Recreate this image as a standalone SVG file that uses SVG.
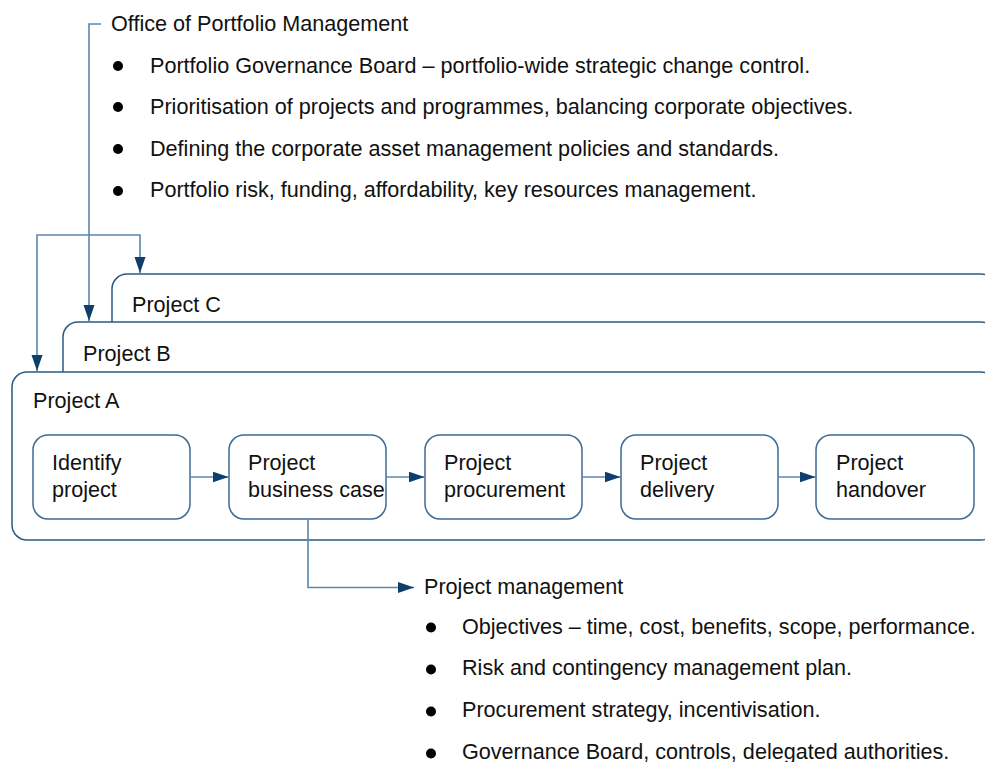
<svg xmlns="http://www.w3.org/2000/svg" width="985" height="762" viewBox="0 0 985 762">
<style>
text{font-family:"Liberation Sans",Arial,sans-serif;font-size:21.6px;fill:#111}
.frame{fill:#fff;stroke:#2b5a86;stroke-width:1.5}
.step{fill:#fff;stroke:#3e6b95;stroke-width:1.5}
.conn{fill:none;stroke:#5b87b0;stroke-width:1.6}
.dot{fill:#000}
</style>
<defs>
<marker id="ah" markerUnits="userSpaceOnUse" markerWidth="17" markerHeight="12" refX="16" refY="5.5" orient="auto">
<path d="M0,0 L16,5.5 L0,11 z" fill="#0d3e6c"/>
</marker>
<marker id="ahs" markerUnits="userSpaceOnUse" markerWidth="17" markerHeight="12" refX="16" refY="5.5" orient="auto-start-reverse">
<path d="M0,0 L16,5.5 L0,11 z" fill="#0d3e6c"/>
</marker>
</defs>

<g id="office">
<text x="111" y="31">Office of Portfolio Management</text>
<circle class="dot" cx="118" cy="66" r="5"/>
<text x="150" y="72.5">Portfolio Governance Board – portfolio-wide strategic change control.</text>
<circle class="dot" cx="118" cy="107" r="5"/>
<text x="150" y="114">Prioritisation of projects and programmes, balancing corporate objectives.</text>
<circle class="dot" cx="118" cy="149" r="5"/>
<text x="150" y="155.5">Defining the corporate asset management policies and standards.</text>
<circle class="dot" cx="118" cy="191" r="5"/>
<text x="150" y="197">Portfolio risk, funding, affordability, key resources management.</text>
</g>

<g id="projectC">
<rect class="frame" x="112" y="274" width="884" height="200" rx="15"/>
<text x="132" y="312">Project C</text>
</g>
<g id="projectB">
<rect class="frame" x="63" y="322" width="933" height="200" rx="15"/>
<text x="83" y="361">Project B</text>
</g>
<g id="projectA">
<rect class="frame" x="12" y="372" width="984" height="168" rx="15"/>
<text x="33" y="407.5">Project A</text>
</g>

<g id="identify">
<rect class="step" x="33" y="435" width="157" height="84" rx="15"/>
<text x="52" y="470">Identify</text>
<text x="52" y="497">project</text>
</g>
<g id="businesscase">
<rect class="step" x="229" y="435" width="157" height="84" rx="15"/>
<text x="248" y="470">Project</text>
<text x="248" y="497">business case</text>
</g>
<g id="procurement">
<rect class="step" x="425" y="435" width="157" height="84" rx="15"/>
<text x="444" y="470">Project</text>
<text x="444" y="497">procurement</text>
</g>
<g id="delivery">
<rect class="step" x="621" y="435" width="157" height="84" rx="15"/>
<text x="640" y="470">Project</text>
<text x="640" y="497">delivery</text>
</g>
<g id="handover">
<rect class="step" x="816" y="435" width="158" height="84" rx="15"/>
<text x="836" y="470">Project</text>
<text x="836" y="497">handover</text>
</g>

<g id="projectmanagement">
<text x="424" y="594">Project management</text>
<circle class="dot" cx="431" cy="627.5" r="5"/>
<text x="462" y="633.5">Objectives – time, cost, benefits, scope, performance.</text>
<circle class="dot" cx="431" cy="669.5" r="5"/>
<text x="462" y="675">Risk and contingency management plan.</text>
<circle class="dot" cx="431" cy="711.5" r="5"/>
<text x="462" y="717">Procurement strategy, incentivisation.</text>
<circle class="dot" cx="431" cy="753.5" r="5"/>
<text x="462" y="759">Governance Board, controls, delegated authorities.</text>
</g>

<g id="connectors">
<path class="conn" d="M101,24 H89 V321" marker-end="url(#ah)"/>
<path class="conn" d="M37,371 V235 H140 V273" marker-start="url(#ahs)" marker-end="url(#ah)"/>
<path class="conn" d="M190,477 H228.5" marker-end="url(#ah)"/>
<path class="conn" d="M386,477 H424.5" marker-end="url(#ah)"/>
<path class="conn" d="M582,477 H620.5" marker-end="url(#ah)"/>
<path class="conn" d="M778,477 H815.5" marker-end="url(#ah)"/>
<path class="conn" d="M308,519 V587.5 H414" marker-end="url(#ah)"/>
</g>
</svg>
